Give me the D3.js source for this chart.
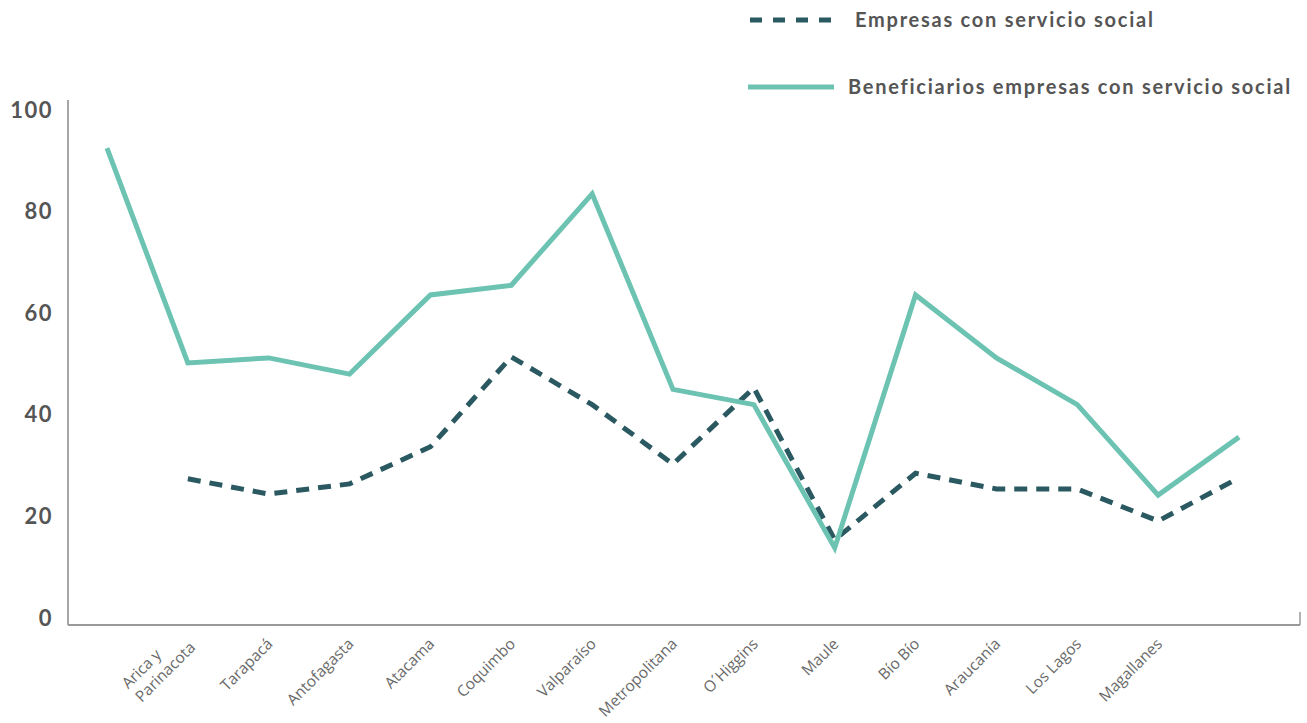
<!DOCTYPE html>
<html><head><meta charset="utf-8">
<script src="https://cdn.jsdelivr.net/npm/d3@7"></script>
<style>body{margin:0;background:#fff}svg{display:block}</style>
</head><body>
<svg id="c" width="1307" height="723"></svg>
<script>
// 15 positions; labels exist for positions 1..13
const categories = ["", "Arica y|Parinacota", "Tarapacá", "Antofagasta", "Atacama", "Coquimbo", "Valparaíso", "Metropolitana", "O´Higgins", "Maule", "Bío Bío", "Araucanía", "Los Lagos", "Magallanes", ""];
const beneficiarios = [92.5, 50.2, 51.2, 48, 63.6, 65.5, 83.5, 45, 42, 13.8, 63.6, 51.2, 42, 24.2, 35.6];
const empresas = [null, 27.4, 24.4, 26.4, 33.7, 51.4, 42, 30.3, 45.3, 15.4, 28.5, 25.4, 25.4, 19.1, 27.6];
const yTicks = [0, 20, 40, 60, 80, 100];
const seriesNames = ["Empresas con servicio social", "Beneficiarios empresas con servicio social"];

const svg = d3.select("#c");
const x = d3.scalePoint().domain(d3.range(categories.length)).range([107, 1239]);
const y = d3.scaleLinear().domain([0, 100]).range([618, 110]);

// axes lines
svg.append("line").attr("x1", 68).attr("x2", 68).attr("y1", 100).attr("y2", 625).attr("stroke", "#888").attr("stroke-width", 1.5);
svg.append("line").attr("x1", 68).attr("x2", 1300).attr("y1", 625).attr("y2", 625).attr("stroke", "#999").attr("stroke-width", 2);
svg.append("line").attr("x1", 1300).attr("x2", 1300).attr("y1", 612).attr("y2", 625).attr("stroke", "#999").attr("stroke-width", 1.5);

// y labels
const yAxis = d3.axisLeft(y).tickValues(yTicks).tickSize(0).tickPadding(0);
const gy = svg.append("g").attr("transform", "translate(53,0)").call(yAxis);
gy.select(".domain").remove();
gy.selectAll("text").attr("font-family", "Lato, sans-serif").attr("font-weight", "bold").attr("font-size", 22).attr("fill", "#555").attr("letter-spacing", 1.5);

// x labels
const labelIdx = d3.range(1, categories.length - 1);
const xAxis = d3.axisBottom(x).tickValues(labelIdx).tickSize(0).tickFormat(() => "");
const gx = svg.append("g").attr("transform", "translate(0,625)").call(xAxis);
gx.select(".domain").remove();
labelIdx.forEach(i => {
  const lines = categories[i].split("|");
  const t = svg.append("text")
    .attr("transform", `translate(${x(i) + 5},${645}) rotate(-45)`)
    .attr("text-anchor", "end")
    .attr("font-family", "'Open Sans', sans-serif")
    .attr("font-size", 15.5).attr("fill", "#6a6a6a");
  lines.forEach((l, k) => {
    t.append("tspan").attr("x", 0).attr("dy", k === 0 ? 0 : 19).text(l);
  });
  if (lines.length > 1) {
    t.attr("text-anchor", "start");
    const w = d3.max(t.selectAll("tspan").nodes(), n => n.getComputedTextLength());
    t.selectAll("tspan").attr("x", -w);
    t.attr("transform", `translate(${x(i) + 5 - 10},${645 - 10}) rotate(-45)`);
  }
});

// lines
const line = d3.line().defined(d => d != null).x((d, i) => x(i)).y(d => y(d));
svg.append("path").datum(empresas).attr("d", line).attr("fill", "none")
  .attr("stroke", "#2b5961").attr("stroke-width", 5).attr("stroke-dasharray", "13,9").attr("stroke-linejoin", "miter");
svg.append("path").datum(beneficiarios).attr("d", line).attr("fill", "none")
  .attr("stroke", "#6cc3b2").attr("stroke-width", 5).attr("stroke-linejoin", "miter");

// legend
const lg = svg.append("g");
lg.append("line").attr("x1", 750).attr("x2", 836).attr("y1", 20).attr("y2", 20)
  .attr("stroke", "#2b5961").attr("stroke-width", 5).attr("stroke-dasharray", "12,11");
lg.append("line").attr("x1", 748).attr("x2", 834).attr("y1", 87).attr("y2", 87)
  .attr("stroke", "#6cc3b2").attr("stroke-width", 5);
lg.append("text").attr("x", 855).attr("y", 27).text(seriesNames[0]);
lg.append("text").attr("x", 848).attr("y", 94).text(seriesNames[1]);
lg.selectAll("text").attr("font-family", "Lato, sans-serif").attr("font-weight", "bold")
  .attr("font-size", 20).attr("fill", "#555").attr("letter-spacing", 1.75);
</script>
</body></html>
